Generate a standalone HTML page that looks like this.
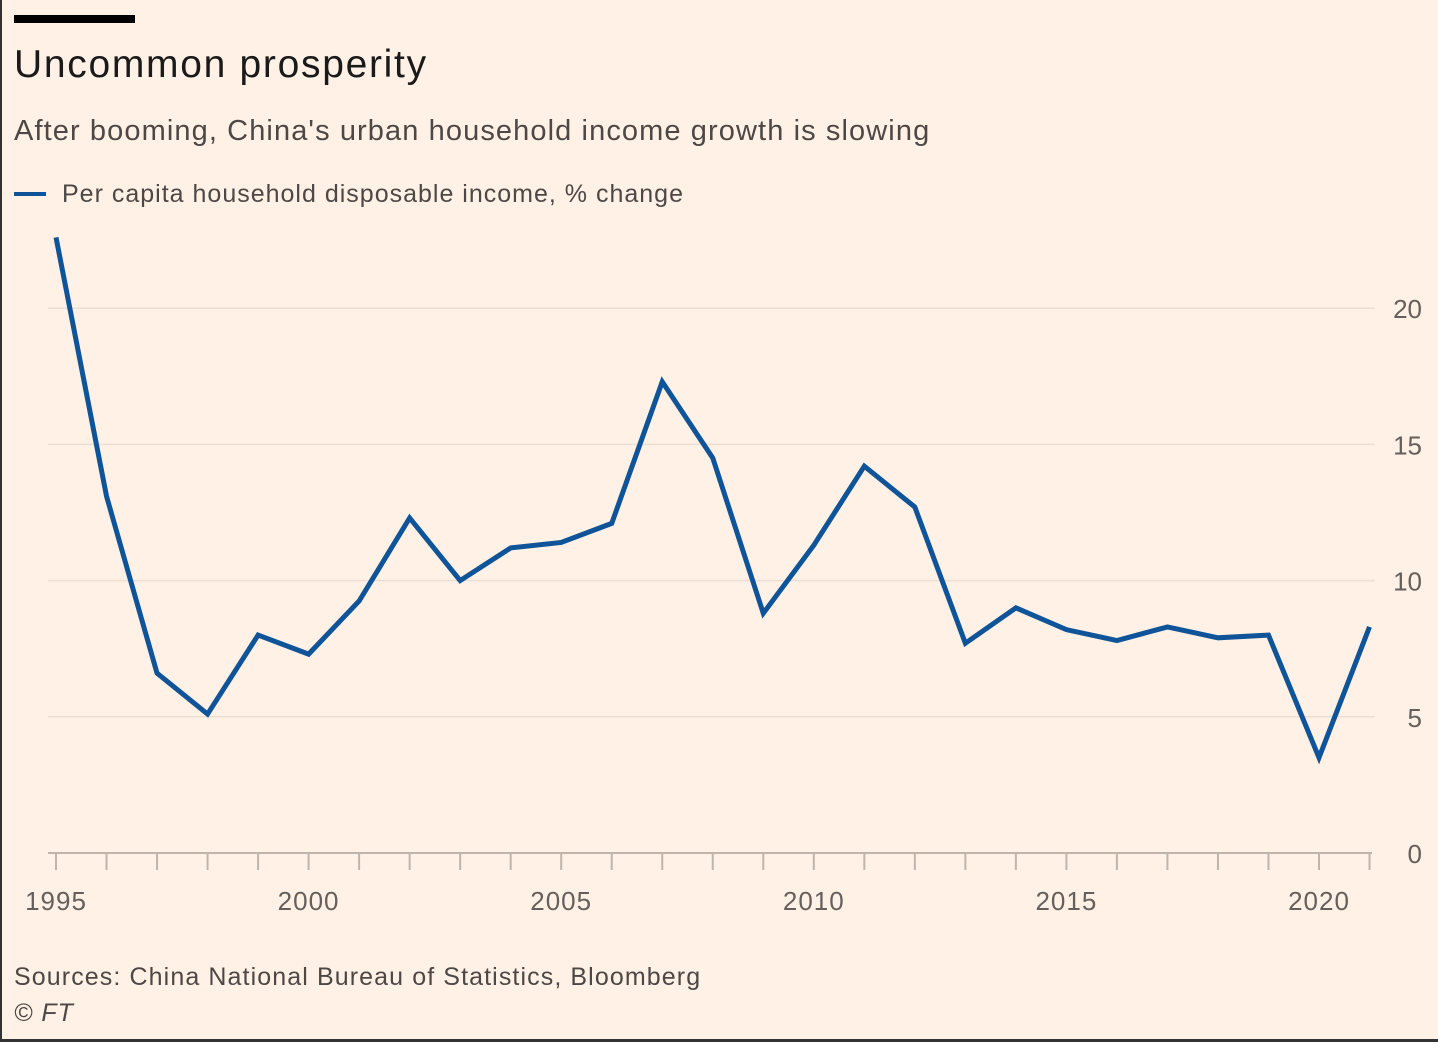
<!DOCTYPE html>
<html><head><meta charset="utf-8"><style>
html,body{margin:0;padding:0;}
body{width:1438px;height:1042px;background:#fff1e5;position:relative;overflow:hidden;font-family:"Liberation Sans",sans-serif;}
.t{position:absolute;white-space:nowrap;}
</style></head><body>
<div style="position:absolute;left:0;top:0;width:2px;height:1042px;background:#333"></div>
<div style="position:absolute;left:0;top:1039px;width:1438px;height:3px;background:#333"></div>
<div style="position:absolute;left:14px;top:15px;width:121px;height:8px;background:#000"></div>
<div class="t" style="left:14px;top:43px;font-size:39px;color:#1a1a1a;letter-spacing:1.7px">Uncommon prosperity</div>
<div class="t" style="left:14px;top:115px;font-size:29px;color:#4d4845;letter-spacing:1.1px">After booming, China's urban household income growth is slowing</div>
<div style="position:absolute;left:14px;top:192px;width:32px;height:4px;background:#0f5499"></div>
<div class="t" style="left:62px;top:180px;font-size:25px;color:#4d4845;letter-spacing:1px">Per capita household disposable income, % change</div>
<svg id="c" width="1438" height="1042" style="position:absolute;left:0;top:0"></svg>
<div class="t" style="left:14px;top:963px;font-size:25px;color:#4d4845;letter-spacing:1.1px">Sources: China National Bureau of Statistics, Bloomberg</div>
<div class="t" style="left:14px;top:999px;font-size:25px;color:#4d4845;font-style:italic;letter-spacing:1px">© FT</div>
<script>
const years=[1995,1996,1997,1998,1999,2000,2001,2002,2003,2004,2005,2006,2007,2008,2009,2010,2011,2012,2013,2014,2015,2016,2017,2018,2019,2020,2021];
const values=[22.6,13.1,6.6,5.1,8.0,7.3,9.25,12.3,10.0,11.2,11.4,12.1,17.3,14.5,8.8,11.3,14.2,12.7,7.7,9.0,8.2,7.8,8.3,7.9,8.0,3.5,8.3];
const yTicks=[0,5,10,15,20];
const xLabels=[1995,2000,2005,2010,2015,2020];
const NS='http://www.w3.org/2000/svg';
const svg=document.getElementById('c');
const x=v=>56+(v-1995)*50.52;
const y=v=>853-v*27.24;
function mk(t,a){const e=document.createElementNS(NS,t);for(const k in a)e.setAttribute(k,a[k]);svg.appendChild(e);return e;}
yTicks.forEach(v=>{
  if(v>0){const g=mk('line',{x1:48,x2:1375,y1:y(v),y2:y(v),stroke:'#ecdfd5','stroke-width':1.5});
  
  }
  const t=mk('text',{x:1422,y:y(v)+10,'text-anchor':'end','font-size':26,fill:'#66605c','font-family':'Liberation Sans, sans-serif'});
  t.textContent=v;
  
  
});
const ax=mk('line',{x1:48,x2:1372,y1:853,y2:853,stroke:'#bfb5ad','stroke-width':2});


years.forEach(yr=>{
  const tk=mk('line',{x1:x(yr),x2:x(yr),y1:853,y2:870,stroke:'#bfb5ad','stroke-width':2});
  
  
});
xLabels.forEach(yr=>{
  const t=mk('text',{x:x(yr),y:910,'text-anchor':'middle','font-size':26,fill:'#66605c','font-family':'Liberation Sans, sans-serif','letter-spacing':1});
  t.textContent=yr;
  
  
});
const p=mk('polyline',{points:years.map((yr,i)=>x(yr)+','+y(values[i])).join(' '),fill:'none',stroke:'#0f5499','stroke-width':5,'stroke-linejoin':'miter'});


</script>
</body></html>
